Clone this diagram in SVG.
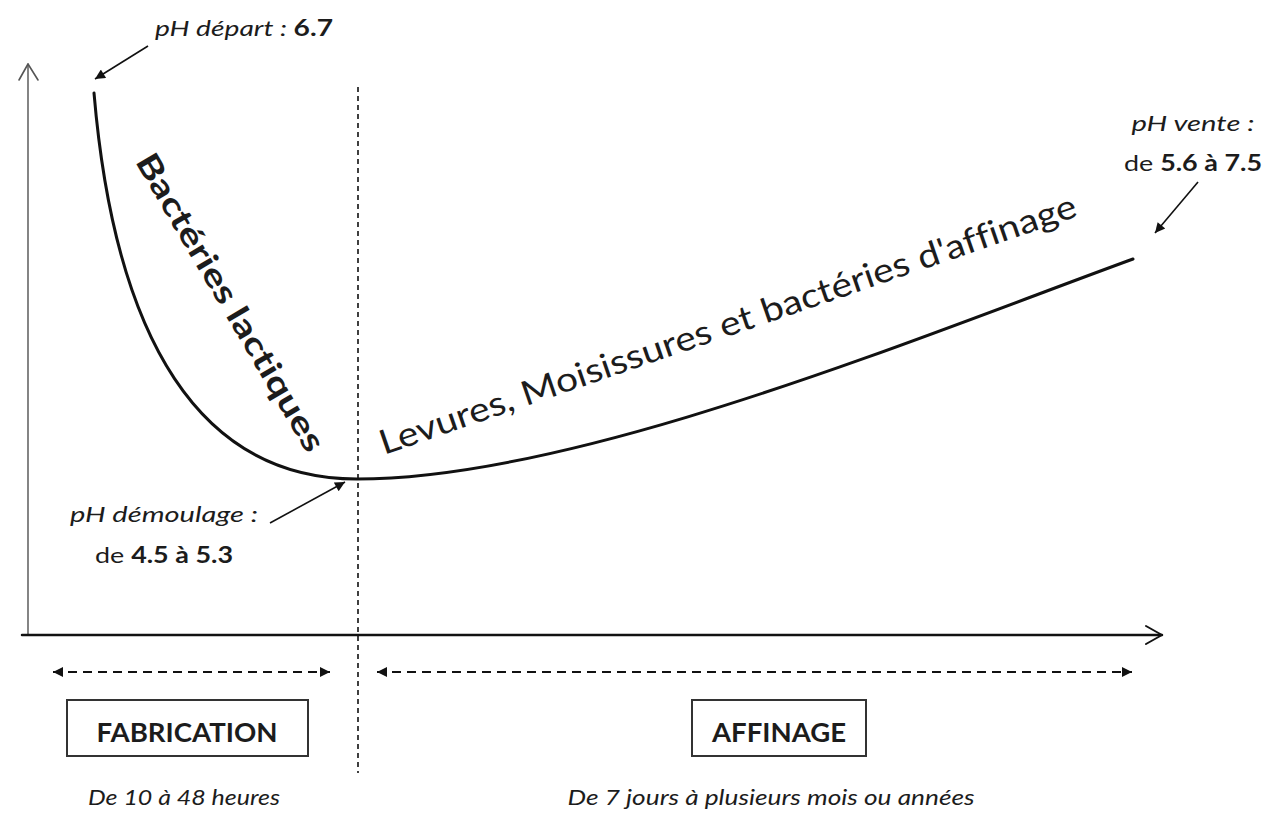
<svg xmlns="http://www.w3.org/2000/svg" width="1269" height="813" viewBox="0 0 1269 813">
  <style>
    .t { font-family: Lato, "Open Sans", "Liberation Sans", sans-serif; fill: #1c1c1c; font-variant-ligatures: none; }
    .it { font-style: italic; }
    .b { font-weight: bold; }
    .n { font-style: normal; }
    .axis { fill: none; stroke-linecap: round; stroke-linejoin: round; }
    .curve { fill: none; stroke: #111; stroke-width: 3; stroke-linecap: round; }
    .ptr { stroke: #111; stroke-width: 1.6; fill: none; }
    .span { stroke: #111; stroke-width: 2.2; stroke-dasharray: 9 6; fill: none; }
    .box { fill: #fff; stroke: #333; stroke-width: 2; }
  </style>
  <defs>
    <marker id="head" viewBox="0 0 10 10" refX="10" refY="5" markerWidth="13" markerHeight="10" markerUnits="userSpaceOnUse" orient="auto-start-reverse">
      <path d="M0,0 L10,5 L0,10 z" fill="#111"/>
    </marker>
  </defs>
  <rect width="1269" height="813" fill="#fff"/>

  <!-- axes -->
  <g id="axes">
    <line class="axis" x1="28" y1="635" x2="28" y2="64" stroke="#666" stroke-width="1.6"/>
    <polyline class="axis" points="19,80 28,64 38,80" stroke="#555" stroke-width="1.6"/>
    <line class="axis" x1="22" y1="635" x2="1162" y2="635" stroke="#111" stroke-width="2.5"/>
    <polyline class="axis" points="1146,626 1162,635 1146,644" stroke="#111" stroke-width="2"/>
  </g>

  <!-- phase separator -->
  <g id="separator">
    <line x1="358" y1="87" x2="358" y2="773" stroke="#111" stroke-width="1.6" stroke-dasharray="5 4"/>
  </g>

  <!-- pH curve -->
  <g id="ph-curve">
    <path class="curve" d="M94,93 C115,340 200,479 357,479 C576,479 914,339 1133,259"/>
  </g>

  <!-- pointer arrows and duration spans -->
  <g id="connectors">
    <line class="ptr" x1="148" y1="46" x2="95" y2="79" marker-end="url(#head)"/>
    <line class="ptr" x1="270" y1="523" x2="345" y2="482" marker-end="url(#head)"/>
    <line class="ptr" x1="1198" y1="182" x2="1155" y2="233" marker-end="url(#head)"/>
    <line class="span" x1="53" y1="672" x2="330" y2="672" marker-start="url(#head)" marker-end="url(#head)"/>
    <line class="span" x1="377" y1="672" x2="1132" y2="672" marker-start="url(#head)" marker-end="url(#head)"/>
  </g>

  <g id="ph-depart">
    <text class="t it" x="155" y="36" font-size="22" textLength="178" lengthAdjust="spacingAndGlyphs">pH départ : <tspan class="b n">6.7</tspan></text>
  </g>

  <g id="ph-demoulage">
    <text class="t it" x="70" y="522" font-size="22" textLength="188" lengthAdjust="spacingAndGlyphs">pH démoulage :</text>
    <text class="t" x="95" y="563" font-size="22" textLength="138" lengthAdjust="spacingAndGlyphs">de <tspan class="b">4.5 à 5.3</tspan></text>
  </g>

  <g id="ph-vente">
    <text class="t it" x="1193" y="131" font-size="22" text-anchor="middle" textLength="123" lengthAdjust="spacingAndGlyphs">pH vente :</text>
    <text class="t" x="1193" y="171" font-size="22" text-anchor="middle" textLength="138" lengthAdjust="spacingAndGlyphs">de <tspan class="b">5.6 à 7.5</tspan></text>
  </g>

  <g id="bacteries-lactiques">
    <text class="t b" font-size="32" text-anchor="middle" textLength="340" lengthAdjust="spacingAndGlyphs" transform="translate(221,308) rotate(59.5)">Bactéries lactiques</text>
  </g>

  <g id="flore-affinage">
    <text class="t" font-size="34" textLength="735" lengthAdjust="spacingAndGlyphs" transform="translate(384,455) rotate(-19)">Levures, Moisissures et bactéries d'affinage</text>
  </g>

  <g id="fabrication">
    <rect class="box" x="67" y="700" width="241" height="56"/>
    <text class="t b" x="187" y="742" font-size="26" text-anchor="middle" textLength="181" lengthAdjust="spacingAndGlyphs">FABRICATION</text>
    <text class="t it" x="184" y="805" font-size="21" text-anchor="middle" textLength="192" lengthAdjust="spacingAndGlyphs">De 10 à 48 heures</text>
  </g>

  <g id="affinage">
    <rect class="box" x="692" y="700" width="174" height="56"/>
    <text class="t b" x="779" y="742" font-size="26" text-anchor="middle" textLength="134" lengthAdjust="spacingAndGlyphs">AFFINAGE</text>
    <text class="t it" x="771" y="805" font-size="21" text-anchor="middle" textLength="407" lengthAdjust="spacingAndGlyphs">De 7 jours à plusieurs mois ou années</text>
  </g>
</svg>
